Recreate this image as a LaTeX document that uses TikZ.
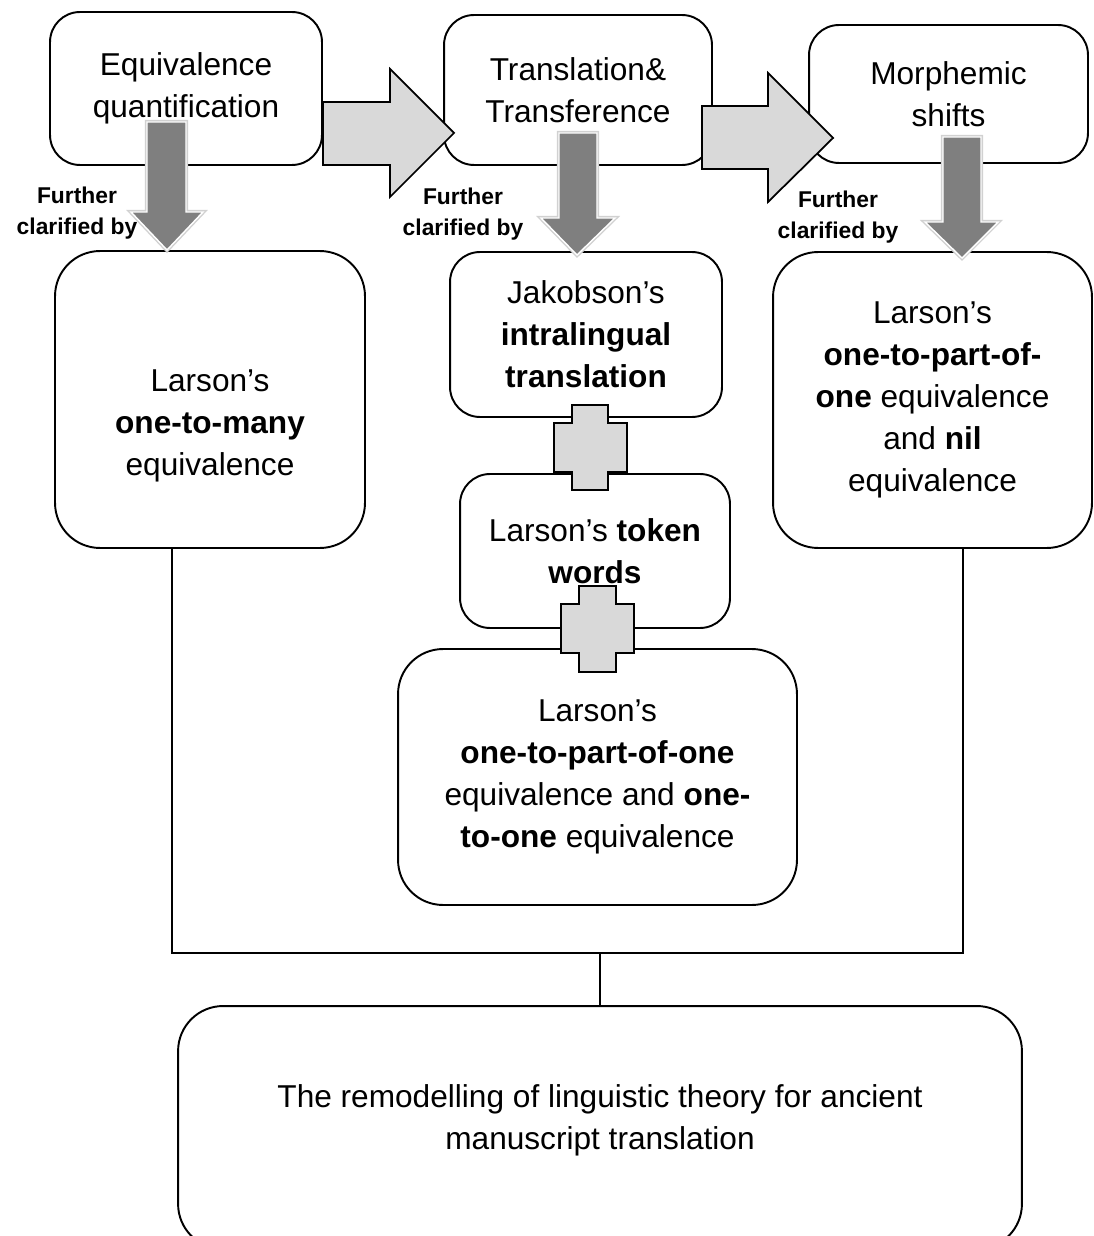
\documentclass[tikz,border=0pt]{standalone}
\usepackage{fontspec}
\setmainfont{Liberation Sans}
\usetikzlibrary{positioning}
\definecolor{lightfill}{HTML}{D9D9D9}
\definecolor{darkfill}{HTML}{7F7F7F}
\tikzset{
box/.style={draw, line width=1.1pt, rounded corners=0.6cm, align=center, inner sep=0pt, font=\fontsize{18}{24}\selectfont}, % the rounded boxes
bigbox/.style={box, rounded corners=0.9cm}, % larger boxes, rounder corners
boxtext/.style={align=center, font=\fontsize{18}{24}\selectfont}, % text set apart from its box
note/.style={align=center, font=\fontsize{13}{17.5}\bfseries}, % the small bold labels
blockarrow/.style={draw, line width=1pt, fill=lightfill, line join=miter}, % light right arrows
plusmark/.style={draw, line width=1pt, fill=lightfill}, % the plus signs
downarrow/.style={fill=darkfill, draw=white, line width=0.8pt, preaction={draw=black!18, line width=2.4pt}}, % dark down arrows
joinline/.style={line width=0.9pt}, % the joining lines at the bottom
}
\begin{document}
\begin{tikzpicture}[x=0.02cm, y=-0.02cm]
\useasboundingbox (0,0) rectangle (1094,1236);

% top row
\node[box, minimum width=5.44cm, minimum height=3.06cm] (b1) at (186,88.5) {Equivalence\\quantification};
\node[box, minimum width=5.36cm, minimum height=3.00cm] (b2) at (578,90) {Translation\&\\Transference};
\node[box, minimum width=5.58cm, minimum height=2.76cm] (b3) at (948.5,94) {Morphemic\\shifts};

% second row
\node[bigbox, minimum width=6.20cm, minimum height=5.94cm] (b4) at (210,399.5) {};
\node[boxtext] (t4) at (210,426) {Larson’s\\\textbf{one-to-many}\\equivalence};
\node[box, minimum width=5.44cm, minimum height=3.30cm] (b5) at (586,334.5) {Jakobson’s\\\textbf{intralingual}\\\textbf{translation}};
\node[box, minimum width=5.40cm, minimum height=3.08cm] (b6) at (595,551) {Larson’s \textbf{token}\\\textbf{words}};
\node[bigbox, minimum width=7.98cm, minimum height=5.12cm] (b7) at (597.5,777) {Larson’s\\\textbf{one-to-part-of-one}\\equivalence and \textbf{one-}\\\textbf{to-one} equivalence};
\node[bigbox, minimum width=6.38cm, minimum height=5.92cm] (b8) at (932.5,400) {Larson’s\\\textbf{one-to-part-of-}\\\textbf{one} equivalence\\and \textbf{nil}\\equivalence};

% bottom box
\node[bigbox, minimum width=16.88cm, minimum height=4.86cm] (b9) at (600,1127.5) {};
\node[boxtext] (t9) at (600,1120) {The remodelling of linguistic theory for ancient\\manuscript translation};

% labels
\node[note] (f1) at (77,213) {Further\\clarified by};
\node[note] (f2) at (463,214) {Further\\clarified by};
\node[note] (f3) at (838,217) {Further\\clarified by};

% right arrows
\draw[blockarrow] (323,102) -- (390,102) -- (390,69) -- (454,133) -- (390,197) -- (390,165) -- (323,165) -- cycle;
\draw[blockarrow] (702,106) -- (768,106) -- (768,73) -- (833,138) -- (768,202) -- (768,169) -- (702,169) -- cycle;

% down arrows
\draw[downarrow] (147,122) -- (186,122) -- (186,212) -- (203,212) -- (167,250) -- (131,212) -- (147,212) -- cycle;
\draw[downarrow] (559,133) -- (597,133) -- (597,218) -- (615,218) -- (577,255) -- (541,218) -- (559,218) -- cycle;
\draw[downarrow] (943,137) -- (981,137) -- (981,222) -- (998,222) -- (962,258) -- (925,222) -- (943,222) -- cycle;

% plus signs
\draw[plusmark] (572,405) -- ++(36,0) -- ++(0,18) -- ++(19,0) -- ++(0,49) -- ++(-19,0) -- ++(0,18) -- ++(-36,0) -- ++(0,-18) -- ++(-18,0) -- ++(0,-49) -- ++(18,0) -- cycle;
\draw[plusmark] (579,586) -- ++(37,0) -- ++(0,18) -- ++(18,0) -- ++(0,49) -- ++(-18,0) -- ++(0,19) -- ++(-37,0) -- ++(0,-19) -- ++(-18,0) -- ++(0,-49) -- ++(18,0) -- cycle;

% joining lines
\coordinate (jl) at (172,953);
\coordinate (jr) at (963,953);
\draw[joinline] (b4.south -| jl) -- (jl) -- (jr) -- (b8.south -| jr);
\draw[joinline] (b9.north) -- (b9.north |- jl);
\end{tikzpicture}
\end{document}
